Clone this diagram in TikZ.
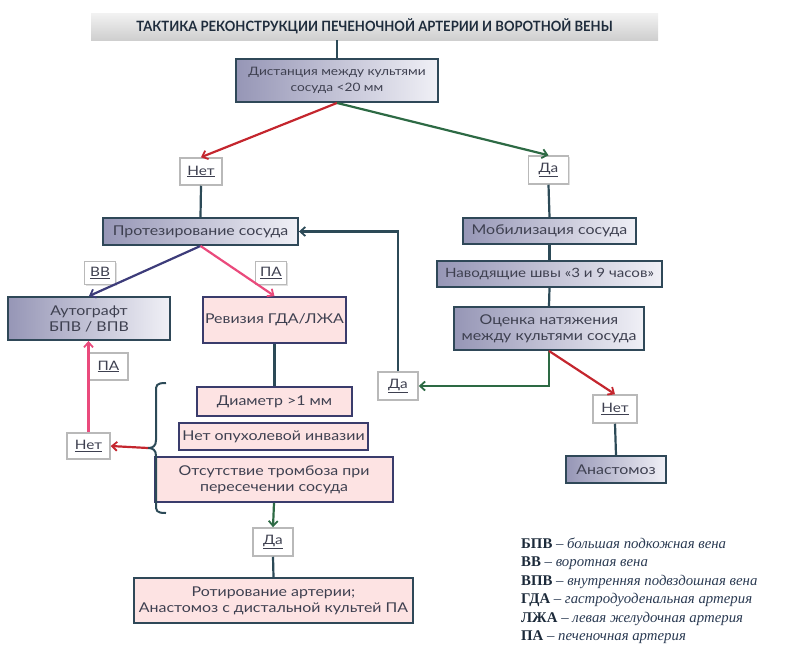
\documentclass[tikz,border=0pt]{standalone}
\usepackage{fontspec}
\setmainfont{Lato}[FakeStretch=1.18]
\newfontfamily\titlefont{Lato}[FakeStretch=0.92]
\newfontfamily\legfont{Liberation Serif}
\usetikzlibrary{arrows.meta,shadows,calc}
\definecolor{txt}{HTML}{3E4050}
\definecolor{bord}{HTML}{2F4858}
\definecolor{gradL}{HTML}{9696B6}
\definecolor{gradR}{HTML}{F0F0F6}
\definecolor{pinkF}{HTML}{FDE3E3}
\definecolor{pinkB}{HTML}{3A3C6C}
\definecolor{redA}{HTML}{C4262E}
\definecolor{greenA}{HTML}{2D6A44}
\definecolor{tealA}{HTML}{2C4A57}
\definecolor{pinkA}{HTML}{EA4A7C}
\definecolor{navyA}{HTML}{3D3C7A}
\definecolor{titleT}{HTML}{1E2C3C}
\definecolor{legB}{HTML}{1C2A3A}
\definecolor{legI}{HTML}{2A3A52}
\tikzset{
  boxtext/.style={font=\fontsize{13.5}{16}\selectfont, text=txt, align=center, inner sep=1pt},
  gbox/.style={boxtext, draw=bord, line width=1.9pt, left color=gradL, right color=gradR},
  pbox/.style={boxtext, draw=pinkB, line width=1.9pt, fill=pinkF},
  lbl/.style={font=\fontsize{13}{15}\selectfont, text=txt, draw=gray!55, line width=1.5pt, fill=white,
     drop shadow={opacity=0.25, shadow xshift=1.2pt, shadow yshift=-1.2pt}, inner sep=1pt},
  conn/.style={line width=2.2pt, draw=tealA},
  arr/.style={line width=2.2pt, -{Straight Barb[length=5pt,width=9pt,line width=1.8pt]}},
  legline/.style={anchor=base west, inner sep=0pt, font=\legfont\fontsize{14.8}{17}\selectfont},
}
\newcommand{\lb}[1]{\underline{#1}}
\newcommand{\lgd}[2]{{\color{legB}\bfseries #1} {\color{legI}\itshape – #2}}
\begin{document}
\begin{tikzpicture}[x=1pt,y=-1pt]
\useasboundingbox (0,0) rectangle (797,645);
% title
\node[top color=gray!10, bottom color=gray!38, minimum width=567, minimum height=27, inner sep=0pt,
  font=\titlefont\bfseries\fontsize{14.2}{16}\selectfont, text=titleT] (title) at (374.5,26.5)
  {ТАКТИКА РЕКОНСТРУКЦИИ ПЕЧЕНОЧНОЙ АРТЕРИИ И ВОРОТНОЙ ВЕНЫ};
% main nodes
\node[gbox, font=\fontsize{11.6}{16}\selectfont, minimum width=202, minimum height=43] (dist) at (337,80.5) {Дистанция между культями\\сосуда <20 мм};
\node[lbl, minimum width=42, minimum height=27] (net1) at (201,171.5) {\lb{Нет}};
\node[lbl, minimum width=40, minimum height=28] (da1) at (548.5,170) {\lb{Да}};
\node[gbox, minimum width=195, minimum height=27] (prot) at (200.5,231.5) {Протезирование сосуда};
\node[gbox, minimum width=173, minimum height=26] (mob) at (549.5,231) {Мобилизация сосуда};
\node[gbox, font=\fontsize{12.8}{15}\selectfont, minimum width=225, minimum height=26] (nav) at (549.5,274) {Наводящие швы «3 и 9 часов»};
\node[gbox, minimum width=190, minimum height=43] (ots) at (549,328.5) {Оценка натяжения\\между культями сосуда};
\node[lbl, minimum width=40, minimum height=28] (da2) at (398,386) {\lb{Да}};
\node[lbl, minimum width=44, minimum height=28] (net2) at (615,409) {\lb{Нет}};
\node[gbox, minimum width=100, minimum height=27] (anast) at (616,469.5) {Анастомоз};
\node[lbl, minimum width=31, minimum height=23] (vv) at (100,273) {\lb{ВВ}};
\node[lbl, minimum width=31, minimum height=23] (pa1) at (271,273) {\lb{ПА}};
\node[gbox, minimum width=162, minimum height=43] (auto) at (89,318.5) {Аутографт\\БПВ / ВПВ};
\node[pbox, minimum width=143, minimum height=46] (rev) at (274.5,320) {Ревизия ГДА/ЛЖА};
\node[pbox, minimum width=155, minimum height=29] (diam) at (274.5,401.5) {Диаметр >1 мм};
\node[pbox, minimum width=189, minimum height=27] (opux) at (273.5,436.5) {Нет опухолевой инвазии};
\node[pbox, minimum width=238, minimum height=45] (otsut) at (274,479.5) {Отсутствие тромбоза при\\пересечении сосуда};
\node[lbl, minimum width=39, minimum height=27] (pa2) at (108.5,366.5) {\lb{ПА}};
\node[lbl, minimum width=43, minimum height=26] (net3) at (88.5,446) {\lb{Нет}};
\node[lbl, minimum width=40, minimum height=28] (da3) at (273,542) {\lb{Да}};
\node[pbox, draw=bord, minimum width=279, minimum height=45] (rot) at (273.5,600.5) {Ротирование артерии;\\Анастомоз с дистальной культей ПА};
% brace
\coordinate (btip) at (148,448);
\draw[tealA, line width=2pt, line join=round]
  (166,383) .. controls (156,383) and (156,385) .. (156,392) -- (156,440)
  .. controls (156,446) and (153,448) .. (btip)
  .. controls (153,448) and (156,450) .. (156,456) -- (156,504)
  .. controls (156,511) and (156,513) .. (166,513);
% connectors
\draw[conn] (title.south -| dist.north) -- (dist.north);
\draw[arr, redA] (dist.south) -- (net1.north);
\draw[arr, greenA] (dist.south) -- (da1.north);
\draw[conn] (net1.south) -- (prot.north);
\draw[conn] (da1.south) -- (mob.north);
\draw[conn] (mob.south) -- (nav.north);
\draw[conn] (nav.south) -- (ots.north);
\draw[arr, greenA] (ots.south) |- (da2.east);
\draw[arr, redA] (ots.south) -- (net2.north);
\draw[conn] (net2.south) -- (anast.north);
\draw[arr, tealA] (da2.north) |- (prot.east);
\draw[arr, navyA] (prot.south) -- (auto.north);
\draw[arr, pinkA] (prot.south) -- (rev.north);
\draw[conn] (rev.south) -- (diam.north);
\draw[arr, redA] (btip) -- (net3.east);
\draw[arr, pinkA] (net3.north) -- (net3.north |- auto.south);
\draw[arr, greenA] (otsut.south) -- (da3.north);
\draw[conn] (da3.south) -- (rot.north);
% legend
\node[legline] (l1) at (521,548) {\lgd{БПВ}{большая подкожная вена}};
\node[legline] (l2) at (521,566.5) {\lgd{ВВ}{воротная вена}};
\node[legline] (l3) at (521,585) {\lgd{ВПВ}{внутренняя подвздошная вена}};
\node[legline] (l4) at (521,603.5) {\lgd{ГДА}{гастродуоденальная артерия}};
\node[legline] (l5) at (521,622) {\lgd{ЛЖА}{левая желудочная артерия}};
\node[legline] (l6) at (521,640) {\lgd{ПА}{печеночная артерия}};
\end{tikzpicture}
\end{document}
